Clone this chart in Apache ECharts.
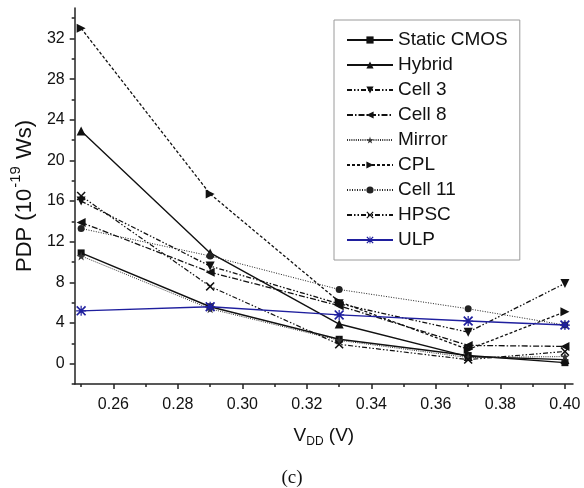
<!DOCTYPE html>
<html><head><meta charset="utf-8">
<script src="https://cdn.jsdelivr.net/npm/echarts@6/dist/echarts.min.js"></script>
<style>html,body{margin:0;padding:0;background:#fff}#c{width:584px;height:488px}</style>
</head><body><div id="c"></div>
<script>
const vdd = [0.25, 0.29, 0.33, 0.37, 0.40];
const staticCmos = [10.9, 5.6, 2.4, 0.8, 0.1];
const hybrid     = [22.9, 10.9, 3.9, 0.7, 0.4];
const cell3      = [16.0, 9.6, 5.9, 3.1, 7.9];
const cell8      = [13.9, 9.0, 5.7, 1.8, 1.7];
const mirror     = [10.6, 5.4, 2.3, 0.6, 0.7];
const cpl        = [33.0, 16.7, 6.1, 1.4, 5.1];
const cell11     = [13.3, 10.6, 7.3, 5.4, 3.8];
const hpsc       = [16.5, 7.6, 1.9, 0.4, 1.2];
const ulp        = [5.2, 5.6, 4.8, 4.2, 3.8];
const seriesNames = ['Static CMOS','Hybrid','Cell 3','Cell 8','Mirror','CPL','Cell 11','HPSC','ULP'];
const xTickLabels = [0.26, 0.28, 0.30, 0.32, 0.34, 0.36, 0.38, 0.40];
const xMinorTicks = [0.25, 0.27, 0.29, 0.31, 0.33, 0.35, 0.37, 0.39];
const yTickLabels = [0, 4, 8, 12, 16, 20, 24, 28, 32];
const yMinorTicks = [-2, 2, 6, 10, 14, 18, 22, 26, 30, 34];

const FONT = '"Liberation Sans", Arial, sans-serif';
const BLACK = '#111';
const BLUE = '#1f1f9e';
const STAR = 'path://M50,0 L61,35 L98,35 L68,57 L79,91 L50,70 L21,91 L32,57 L2,35 L39,35 Z';
const XMARK = 'path://M0,1.2 L1.2,0 L5,3.8 L8.8,0 L10,1.2 L6.2,5 L10,8.8 L8.8,10 L5,6.2 L1.2,10 L0,8.8 L3.8,5 Z';
const AST = 'path://M0,1.2 L1.2,0 L5,3.8 L8.8,0 L10,1.2 L6.2,5 L10,8.8 L8.8,10 L5,6.2 L1.2,10 L0,8.8 L3.8,5 Z M4.4,0 L5.6,0 L5.6,10 L4.4,10 Z M0,4.4 L10,4.4 L10,5.6 L0,5.6 Z';

const allData = [staticCmos, hybrid, cell3, cell8, mirror, cpl, cell11, hpsc, ulp];
const styles = [
  {symbol:'rect', size:7, rot:0, dash:'solid', color:BLACK, w:1.4},
  {symbol:'triangle', size:9, rot:0, dash:'solid', color:BLACK, w:1.4},
  {symbol:'triangle', size:9, rot:180, dash:[5,2,1.5,2,1.5,2], color:BLACK, w:1.3},
  {symbol:'triangle', size:9, rot:90, dash:[6,2,1.5,2], color:BLACK, w:1.3},
  {symbol:STAR, size:9, rot:0, dash:[1,1.2], color:'#333', w:1},
  {symbol:'triangle', size:9, rot:-90, dash:[3,2], color:BLACK, w:1.3},
  {symbol:'circle', size:7, rot:0, dash:[1,1.5], color:'#222', w:1},
  {symbol:XMARK, size:9, rot:0, dash:[5,2,1.5,2,1.5,2], color:BLACK, w:1.2},
  {symbol:AST, size:10, rot:0, dash:'solid', color:BLUE, w:1.4}
];

const series = allData.map((arr, i) => ({
  name: seriesNames[i], type:'line', xAxisIndex:0, yAxisIndex:0,
  data: vdd.map((x, j) => [x, arr[j]]),
  symbol: styles[i].symbol, symbolSize: styles[i].size, symbolRotate: styles[i].rot,
  showAllSymbol: true,
  lineStyle: {color: styles[i].color, width: styles[i].w, type: styles[i].dash},
  itemStyle: {color: styles[i].color},
  z: i === 8 ? 3 : 2
}));

const axisLineStyle = {color:'#222', width:1.5};
const chart = echarts.init(document.getElementById('c'), null, {renderer:'canvas'});
chart.setOption({
  animation:false,
  backgroundColor:'#fff',
  grid:{left:69, right:11, top:8, bottom:104},
  xAxis:[{
    type:'value', min:0.248, max:0.4025, position:'bottom',
    axisLine:{onZero:false, lineStyle:axisLineStyle},
    axisTick:{customValues:xTickLabels, length:5, lineStyle:axisLineStyle},
    axisLabel:{customValues:xTickLabels, formatter:v=>v.toFixed(2), margin:13, fontSize:16, color:BLACK, fontFamily:FONT},
    splitLine:{show:false},
    name:'{a|V}{s|DD}{a| (V)}', nameLocation:'middle', nameGap:37,
    nameTextStyle:{rich:{
      a:{fontSize:19, fontFamily:FONT, color:BLACK, lineHeight:24, verticalAlign:'bottom'},
      s:{fontSize:12, fontFamily:FONT, color:BLACK, lineHeight:12, verticalAlign:'bottom', padding:[0,0,-3,0]}
    }}
  },{
    type:'value', min:0.248, max:0.4025, position:'bottom',
    axisLine:{show:false, onZero:false},
    axisTick:{customValues:xMinorTicks, length:3, lineStyle:axisLineStyle},
    axisLabel:{show:false}, splitLine:{show:false}
  }],
  yAxis:[{
    type:'value', min:-2, max:35, position:'left',
    axisLine:{show:true, onZero:false, lineStyle:axisLineStyle},
    axisTick:{show:true, customValues:yTickLabels, length:5, lineStyle:axisLineStyle},
    axisLabel:{customValues:yTickLabels, margin:10, fontSize:16, color:BLACK, fontFamily:FONT},
    splitLine:{show:false},
    name:'{a|PDP (10}{p|-19}{a| Ws)}', nameLocation:'middle', nameGap:33,
    nameTextStyle:{rich:{
      a:{fontSize:22, fontFamily:FONT, color:BLACK, lineHeight:28, verticalAlign:'bottom'},
      p:{fontSize:15, fontFamily:FONT, color:BLACK, lineHeight:28, verticalAlign:'top', padding:[0,1,0,1]}
    }}
  },{
    type:'value', min:-2, max:35, position:'left',
    axisLine:{show:false, onZero:false},
    axisTick:{show:true, customValues:yMinorTicks, length:3, lineStyle:axisLineStyle},
    axisLabel:{show:false}, splitLine:{show:false}
  }],
  legend:{
    orient:'vertical', left:334, top:20,
    data:seriesNames,
    itemWidth:46, itemHeight:9, itemGap:5,
    padding:[10,12,10,12],
    borderColor:'#9a9a9a', borderWidth:1, backgroundColor:'#fff',
    textStyle:{fontSize:19, fontFamily:FONT, color:BLACK, lineHeight:20},
    inactiveColor:'#111'
  },
  graphic:[{
    type:'text', left:'center', top:469,
    style:{text:'(c)', font:'19px "Liberation Serif", "Times New Roman", serif', fill:BLACK, x:0}
  }],
  series:series
});
</script></body></html>
